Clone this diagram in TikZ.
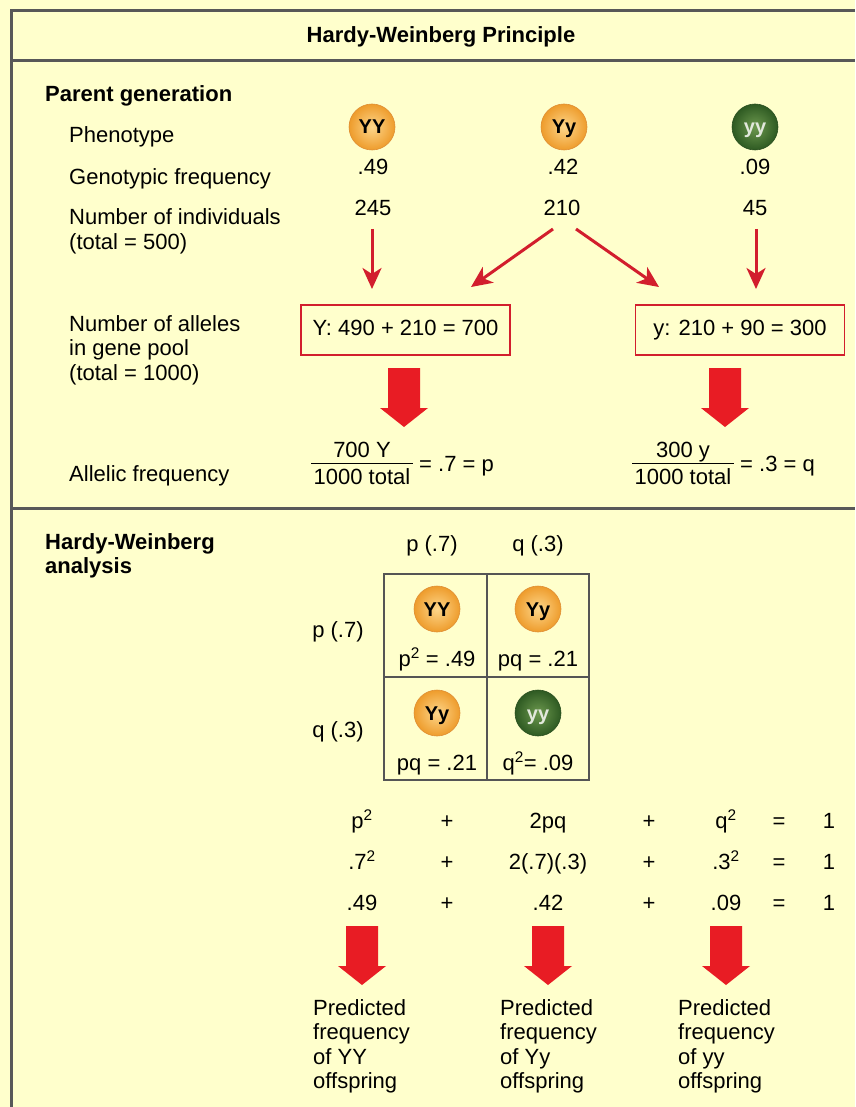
\documentclass[tikz,border=0pt]{standalone}
\usepackage{fontspec}
\setmainfont{Liberation Sans}
\usetikzlibrary{arrows.meta}
\definecolor{bg}{RGB}{255,255,204}
\definecolor{framec}{RGB}{88,88,88}
\definecolor{thinred}{RGB}{210,30,45}
\definecolor{bigred}{RGB}{232,28,36}
\definecolor{peaout}{RGB}{238,156,44}
\definecolor{peain}{RGB}{253,214,138}
\definecolor{peaedge}{RGB}{222,142,52}
\definecolor{grout}{RGB}{46,90,34}
\definecolor{grin}{RGB}{108,152,78}
\definecolor{gredge}{RGB}{40,78,30}
\definecolor{grtext}{RGB}{226,232,220}
\definecolor{gridc}{RGB}{85,85,85}
\begin{document}
\begin{tikzpicture}[x=1pt,y=-1pt,
  txt/.style={inner sep=0pt, font=\fontsize{22}{24}\selectfont},
  lab/.style={txt, anchor=base west},
  ctr/.style={txt, anchor=base},
  hd/.style={inner sep=0pt, anchor=base west, font=\fontsize{22}{24}\selectfont\bfseries},
  framel/.style={draw=framec, line width=3pt},
  gridl/.style={draw=gridc, line width=1.2pt},
  redarrow/.style={draw=thinred, line width=3pt, -{Stealth[length=21pt,width=19pt,inset=6pt]}},
  allelebox/.style={draw=thinred, line width=1.5pt, minimum width=209pt, minimum height=50pt,
    inner sep=0pt, text height=10pt, text depth=0pt, font=\fontsize{22}{24}\selectfont},
  pea/.style={circle, minimum size=46pt, inner sep=0pt, text height=14pt, text depth=0pt,
    font=\fontsize{20}{20}\selectfont\bfseries},
  yellowpea/.style={pea, shading=radial, inner color=peain, outer color=peaout, draw=peaedge, line width=0.6pt, text=black},
  greenpea/.style={pea, shading=radial, inner color=grin, outer color=grout, draw=gredge, line width=0.6pt, text=grtext},
  bigarrow/.pic={\fill[bigred] (-16,0) -- (16,0) -- (16,40) -- (24,40) -- (0,59) -- (-24,40) -- (-16,40) -- cycle;}
]
% background and bounding box
\fill[bg] (0,0) rectangle (855,1107);
\useasboundingbox (0,0) rectangle (855,1107);

% frame
\draw[framel] (855,10.5) -- (11.8,10.5) -- (11.8,1107);
\draw[framel] (11.8,61) -- (855,61);
\draw[framel] (11.8,508.5) -- (855,508.5);

% title
\node[hd, anchor=base] (title) at (441,43) {Hardy-Weinberg Principle};

% ---------- Parent generation ----------
\node[hd] (pg) at (45,102) {Parent generation};
\node[lab] (lphen) at (69,143) {Phenotype};
\node[lab] (lgen) at (69,185) {Genotypic frequency};
\node[lab] (lnum1) at (69,225) {Number of individuals};
\node[lab] (lnum2) at (69,249) {(total = 500)};

\node[yellowpea] (pYY) at (372,127) {YY};
\node[yellowpea] (pYy) at (564,127) {Yy};
\node[greenpea]  (pyy) at (755,127) {yy};

\node[ctr] (f1) at (373,175) {.49};
\node[ctr] (f2) at (563,175) {.42};
\node[ctr] (f3) at (755,175) {.09};

\node[ctr] (n1) at (373,216) {245};
\node[ctr] (n2) at (562,216) {210};
\node[ctr] (n3) at (755,216) {45};

\coordinate (a1s) at (372,229); \coordinate (a1e) at (372,289);
\coordinate (a2s) at (553,229); \coordinate (a2e) at (471,287);
\coordinate (a3s) at (576,229); \coordinate (a3e) at (659,287);
\coordinate (a4s) at (756,229); \coordinate (a4e) at (756,289);
\draw[redarrow] (a1s) -- (a1e);
\draw[redarrow] (a2s) -- (a2e);
\draw[redarrow] (a3s) -- (a3e);
\draw[redarrow] (a4s) -- (a4e);

\node[lab] (lal1) at (69,331) {Number of alleles};
\node[lab] (lal2) at (69,355) {in gene pool};
\node[lab] (lal3) at (69,380) {(total = 1000)};

\node[allelebox] (boxY) at (405.5,330) {Y: 490 + 210 = 700};
\node[allelebox] (boxy) at (740,330) {y: 210 + 90 = 300};

\pic (ba1) at (404,368) {bigarrow};
\pic (ba2) at (725,368) {bigarrow};

\node[lab] (lalf) at (69,481) {Allelic frequency};

\node[ctr] (numY) at (362,457) {700 Y};
\node[ctr] (denY) at (362,484) {1000 total};
\draw[black, line width=1pt] ([xshift=-2pt,yshift=4pt]denY.north west) -- ([xshift=2pt,yshift=4pt]denY.north east);
\node[lab] (eqp) at (419,471) {= .7 = p};

\node[ctr] (numy) at (683,457) {300 y};
\node[ctr] (deny) at (683,484) {1000 total};
\draw[black, line width=1pt] ([xshift=-2pt,yshift=4pt]deny.north west) -- ([xshift=2pt,yshift=4pt]deny.north east);
\node[lab] (eqq) at (740,471) {= .3 = q};

% ---------- Hardy-Weinberg analysis ----------
\node[hd] (hw1) at (45,549) {Hardy-Weinberg};
\node[hd] (hw2) at (45,573) {analysis};

\node[ctr] (cp) at (432,551) {p (.7)};
\node[ctr] (cq) at (538,551) {q (.3)};
\node[ctr] (rp) at (338,637) {p (.7)};
\node[ctr] (rq) at (338,737) {q (.3)};

\draw[gridl] (384,574) rectangle (589,780);
\draw[gridl] (487,574) -- (487,780);
\draw[gridl] (384,677) -- (589,677);

\node[yellowpea] (cYY) at (437,609) {YY};
\node[yellowpea] (cYy1) at (538,609) {Yy};
\node[yellowpea] (cYy2) at (437,713) {Yy};
\node[greenpea]  (cyy) at (538,713) {yy};

\node[ctr] (t1) at (437,666) {p\textsuperscript{2} = .49};
\node[ctr] (t2) at (538,666) {pq = .21};
\node[ctr] (t3) at (437,770) {pq = .21};
\node[ctr] (t4) at (538,770) {q\textsuperscript{2}= .09};

% equations
\node[ctr] (e11) at (362,828) {p\textsuperscript{2}};
\node[ctr] (e12) at (447,828) {+};
\node[ctr] (e13) at (548,828) {2pq};
\node[ctr] (e14) at (649,828) {+};
\node[ctr] (e15) at (726,828) {q\textsuperscript{2}};
\node[ctr] (e16) at (779,828) {=};
\node[ctr] (e17) at (829,828) {1};

\node[ctr] (e21) at (362,869) {.7\textsuperscript{2}};
\node[ctr] (e22) at (447,869) {+};
\node[ctr] (e23) at (548,869) {2(.7)(.3)};
\node[ctr] (e24) at (649,869) {+};
\node[ctr] (e25) at (726,869) {.3\textsuperscript{2}};
\node[ctr] (e26) at (779,869) {=};
\node[ctr] (e27) at (829,869) {1};

\node[ctr] (e31) at (362,910) {.49};
\node[ctr] (e32) at (447,910) {+};
\node[ctr] (e33) at (548,910) {.42};
\node[ctr] (e34) at (649,910) {+};
\node[ctr] (e35) at (726,910) {.09};
\node[ctr] (e36) at (779,910) {=};
\node[ctr] (e37) at (829,910) {1};

\pic (bb1) at (362,926) {bigarrow};
\pic (bb2) at (548,926) {bigarrow};
\pic (bb3) at (726,926) {bigarrow};

\node[lab] (pa1) at (313,1015) {Predicted};
\node[lab] (pa2) at (313,1039.5) {frequency};
\node[lab] (pa3) at (313,1064) {of YY};
\node[lab] (pa4) at (313,1088.5) {offspring};

\node[lab] (pb1) at (500,1015) {Predicted};
\node[lab] (pb2) at (500,1039.5) {frequency};
\node[lab] (pb3) at (500,1064) {of Yy};
\node[lab] (pb4) at (500,1088.5) {offspring};

\node[lab] (pc1) at (678,1015) {Predicted};
\node[lab] (pc2) at (678,1039.5) {frequency};
\node[lab] (pc3) at (678,1064) {of yy};
\node[lab] (pc4) at (678,1088.5) {offspring};
\end{tikzpicture}
\end{document}
